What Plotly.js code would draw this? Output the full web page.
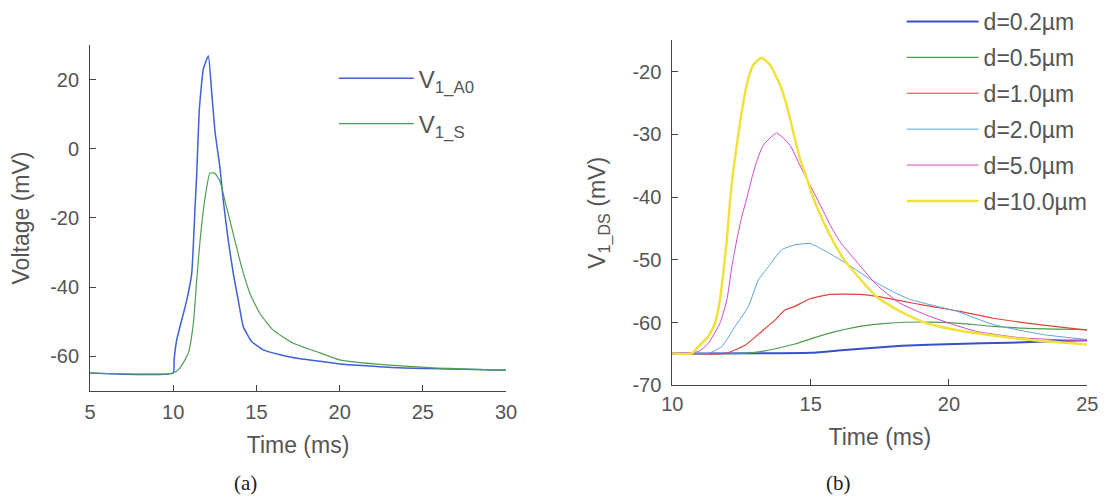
<!DOCTYPE html>
<html>
<head>
<meta charset="utf-8">
<script src="https://cdn.plot.ly/plotly-3.0.1.min.js"></script>
<style>html,body{margin:0;padding:0;background:#fff;}#chart{width:1120px;height:498px;}</style>
</head>
<body>
<div id="chart"></div>
<script>
// ---- Panel (a) data ----
const timeA0 = [5, 10.0, 10.05, 10.21, 10.81, 11.11, 11.31, 11.41, 11.57, 11.81, 12.11, 12.31, 12.51, 12.81, 13.01, 13.31, 13.61, 13.91, 14.21, 14.71, 15.41, 16.42, 17.62, 18.82, 20, 23.6, 30];
const vA0    = [-64.8, -64.8, -61, -55.2, -43.8, -36.1, -17, -7.5, 11.6, 23.1, 26.9, 16.4, 5, -5.6, -15.1, -26.6, -36.1, -43.8, -51.4, -55.7, -58.1, -59.5, -60.7, -61.4, -62.2, -63.3, -64];
const timeS  = [5, 10.0, 10.41, 10.91, 11.21, 11.41, 11.61, 11.91, 12.21, 12.51, 12.81, 13.11, 13.41, 13.71, 14.11, 14.61, 15.21, 16.01, 17.22, 18.82, 20, 22.6, 25.6, 30];
const vS     = [-64.8, -64.8, -63.3, -59, -50.4, -38, -26.6, -14.2, -7, -7.1, -9.4, -15.1, -20.8, -26.6, -34.2, -41.8, -47.6, -52.4, -56.2, -59, -61, -62.4, -63.3, -64];
const namesA = ["V<sub>1_A0</sub>", "V<sub>1_S</sub>"];
const xTicksA = [5, 10, 15, 20, 25, 30];
const yTicksA = [-60, -40, -20, 0, 20];
const yTickTextA = ["-60", "-40", "-20", "0", "20"];

// ---- Panel (b) data ----
const labelsB = ["d=0.2\u00b5m", "d=0.5\u00b5m", "d=1.0\u00b5m", "d=2.0\u00b5m", "d=5.0\u00b5m", "d=10.0\u00b5m"];
const t02 = [10, 15.0, 16.1, 17.3, 18.3, 20.2, 22.2, 23.7, 25];
const v02 = [-64.9, -64.8, -64.4, -64.0, -63.7, -63.4, -63.2, -62.95, -62.8];
const t05 = [10, 12.5, 13.35, 14.07, 14.43, 15.58, 16.78, 17.75, 19.19, 20.4, 21.6, 22.81, 25];
const v05 = [-64.9, -64.9, -64.5, -63.8, -63.4, -61.8, -60.6, -60.1, -59.9, -60.1, -60.6, -60.9, -61.1];
const t10 = [10, 11.9, 12.63, 13.23, 13.71, 14.07, 14.43, 14.98, 15.7, 16.78, 17.5, 18.23, 19.19, 20.4, 21.6, 23.41, 25];
const v10 = [-64.9, -64.9, -63.6, -61.4, -59.6, -58, -57.4, -56.2, -55.5, -55.5, -55.9, -56.5, -57.3, -58.2, -59.3, -60.4, -61.2];
const t20 = [10, 11.3, 11.79, 12.27, 12.75, 13.11, 13.47, 13.95, 14.43, 14.98, 15.58, 16.3, 17.2, 17.99, 18.59, 19.19, 20.3, 21.6, 23.41, 25];
const v20 = [-64.9, -64.9, -63.8, -60.6, -57.4, -53.2, -51.1, -48.4, -47.6, -47.4, -48.7, -50.6, -53.2, -55.1, -56.3, -57.0, -58.2, -60.3, -61.9, -62.7];
const t50 = [10, 10.94, 11.3, 11.72, 11.97, 12.15, 12.33, 12.51, 12.69, 12.87, 13.05, 13.29, 13.77, 14.25, 14.61, 14.98, 15.34, 15.7, 16.06, 16.78, 17.39, 18.23, 19.19, 20.16, 21.0, 22.57, 25];
const v50 = [-64.9, -64.6, -63.3, -60.1, -56.4, -51.1, -46.8, -43.1, -40.2, -37, -34.3, -31.7, -29.8, -31.7, -34.9, -38.1, -41.2, -44.4, -47.1, -50.9, -54, -56.9, -58.8, -60.3, -61.4, -62.4, -62.9];
const t100 = [10, 10.7, 10.94, 11.3, 11.54, 11.72, 11.84, 11.97, 12.09, 12.2, 12.45, 12.69, 12.93, 13.23, 13.53, 13.89, 14.13, 14.37, 14.61, 14.86, 15.1, 15.46, 15.82, 16.18, 16.78, 17.39, 18.23, 19.19, 20.16, 21.0, 22.81, 25];
const v100 = [-64.9, -64.9, -63.8, -62.2, -60.1, -56.4, -52.1, -46.8, -40.4, -35.9, -28, -22.1, -18.9, -17.8, -18.9, -22.1, -25.3, -29.6, -33.8, -37, -40.2, -43.9, -47.1, -49.8, -53, -55.9, -58.2, -60.1, -61.1, -61.7, -62.7, -63.5];
const xTicksB = [10, 15, 20, 25];
const yTicksB = [-70, -60, -50, -40, -30, -20];
const yTickTextB = ["-70", "-60", "-50", "-40", "-30", "-20"];

const timesB = [t02, t05, t10, t20, t50, t100];
const valsB  = [v02, v05, v10, v20, v50, v100];
const colorsB = ["#3552cc", "#4d9e4d", "#e0453c", "#5ba4e0", "#d247c8", "#f0e23a"];
const widthsB = [2, 1.2, 1.2, 1, 1, 2.5];

const traces = [
  {x: timeA0, y: vA0, mode: "lines", name: namesA[0], line: {color: "#3f62d6", width: 1.5, shape: "spline", smoothing: 0.4}, xaxis: "x", yaxis: "y", legend: "legend", legendgroup: "a1"},
  {x: timeS, y: vS, mode: "lines", name: namesA[1], line: {color: "#4f9f52", width: 1.2, shape: "spline", smoothing: 0.5}, xaxis: "x", yaxis: "y", legend: "legend", legendgroup: "a2"}
];
for (let i = 0; i < labelsB.length; i++) {
  traces.push({x: timesB[i], y: valsB[i], mode: "lines", name: labelsB[i],
    line: {color: colorsB[i], width: widthsB[i], shape: "spline", smoothing: 0.5}, xaxis: "x2", yaxis: "y2",
    legend: "legend2", legendgroup: "b" + i});
}

const fontFam = "Liberation Sans, Arial, sans-serif";
const txtCol = "#555";
const axisCommon = {
  showline: true, linecolor: "#444", linewidth: 1, mirror: false,
  ticks: "inside", ticklen: 6, tickcolor: "#444", tickwidth: 1,
  showgrid: false, zeroline: false, automargin: false,
  tickfont: {family: fontFam, size: 20, color: txtCol}
};
const titleFont = {family: fontFam, size: 23, color: txtCol};

const layout = {
  width: 1120, height: 498,
  margin: {l: 0, r: 0, t: 0, b: 0},
  paper_bgcolor: "#fff", plot_bgcolor: "rgba(0,0,0,0)",
  showlegend: true,
  font: {family: fontFam, size: 20, color: txtCol},
  xaxis: Object.assign({}, axisCommon, {domain: [0.0804, 0.4518], range: [5, 30], tickvals: xTicksA, ticklabelstandoff: 3,
    anchor: "y", title: {text: "Time (ms)", font: titleFont, standoff: 14}}),
  yaxis: Object.assign({}, axisCommon, {domain: [0.2149, 0.9096], range: [-70, 30], tickvals: yTicksA, ticktext: yTickTextA, ticklabelstandoff: 6,
    anchor: "x", title: {text: "Voltage (mV)", font: titleFont, standoff: 14}}),
  xaxis2: Object.assign({}, axisCommon, {domain: [0.6003, 0.9708], range: [10, 25], tickvals: xTicksB, ticklabelstandoff: 1,
    anchor: "y2", title: {text: "Time (ms)", font: titleFont, standoff: 14}}),
  yaxis2: Object.assign({}, axisCommon, {domain: [0.2261, 0.9191], range: [-70, -15], tickvals: yTicksB, ticktext: yTickTextB, ticklabelstandoff: 6,
    anchor: "x2", title: {text: "V<sub>1_DS</sub> (mV)", font: titleFont, standoff: 20}}),
  legend: {x: 0.298, xanchor: "left", y: 0.887, yanchor: "top", bgcolor: "rgba(0,0,0,0)",
    itemwidth: 75, tracegroupgap: 11, font: {family: fontFam, size: 24, color: txtCol}},
  legend2: {x: 0.805, xanchor: "left", y: 1.0, yanchor: "top", bgcolor: "rgba(0,0,0,0)",
    itemwidth: 72, tracegroupgap: 3, font: {family: fontFam, size: 23, color: txtCol}},
  annotations: [
    {text: "(a)", xref: "paper", yref: "paper", x: 245 / 1120, y: 1 - 483 / 498, xanchor: "center", yanchor: "middle",
      showarrow: false, font: {family: "Liberation Serif, Times New Roman, serif", size: 21, color: "#222"}},
    {text: "(b)", xref: "paper", yref: "paper", x: 838 / 1120, y: 1 - 483 / 498, xanchor: "center", yanchor: "middle",
      showarrow: false, font: {family: "Liberation Serif, Times New Roman, serif", size: 21, color: "#222"}}
  ]
};

Plotly.newPlot("chart", traces, layout, {staticPlot: true, displayModeBar: false});
</script>
</body>
</html>
